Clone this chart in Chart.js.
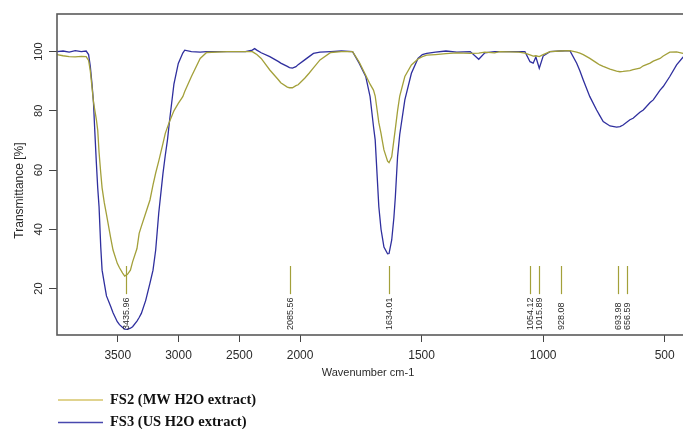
<!DOCTYPE html>
<html>
<head>
<meta charset="utf-8">
<script src="https://cdn.jsdelivr.net/npm/chart.js@4.4.1/dist/chart.umd.min.js"></script>
<style>
html, body { margin: 0; padding: 0; background: #fff; overflow: hidden; width: 683px; height: 429px; }
#wrap { position: relative; width: 700px; height: 429px; }
</style>
</head>
<body>
<div id="wrap"><canvas id="ftir" width="700" height="429"></canvas></div>
<script>
// wavenumber grid (cm-1)
const wavenumbers = [
  4000, 3950, 3900, 3850, 3800, 3760, 3740, 3726, 3712, 3700,
  3690, 3676, 3665, 3654, 3640, 3629, 3611, 3593, 3558, 3539,
  3504, 3486, 3460, 3443, 3420, 3396, 3378, 3342, 3324, 3306,
  3270, 3235, 3210, 3188, 3163, 3128, 3109, 3091, 3073, 3038,
  3002, 2965, 2949, 2894, 2822, 2769, 2600, 2450, 2393, 2374,
  2356, 2320, 2249, 2177, 2159, 2105, 2087, 2063, 2034, 2016,
  1981, 1963, 1945, 1918, 1874, 1830, 1784, 1757, 1730, 1712,
  1698, 1691, 1676, 1667, 1662, 1655, 1640, 1634, 1623, 1614,
  1608, 1599, 1590, 1569, 1542, 1515, 1497, 1479, 1443, 1400,
  1355, 1300, 1265, 1240, 1200, 1178, 1100, 1075, 1054, 1041,
  1030, 1016, 1000, 972, 930, 890, 862, 849, 835, 808,
  780, 767, 753, 725, 698, 684, 671, 643, 630, 602,
  588, 560, 547, 519, 506, 479, 451, 425, 400
];

// FS2 (MW H2O extract) transmittance %
const fs2Values = [
  99.0, 98.6, 98.3, 98.2, 98.4, 98.3, 97.0, 93.5, 88, 83,
  80.5, 77, 73.5, 66, 59, 54, 49, 45, 37, 33,
  28.5, 27, 25.2, 24.2, 24.8, 26.2, 29, 33.5, 38.6, 41,
  45.5, 49.9, 55, 59, 63, 69, 72.4, 74.5, 76.5, 80,
  82.5, 84.8, 86.5, 91.6, 97.7, 99.7, 100, 100, 100, 99.5,
  99, 97.7, 93.8, 90.4, 89.5, 88, 87.8, 87.8, 88.5, 88.8,
  91, 92.7, 94.5, 97.2, 99.7, 100, 100, 96.5, 92, 89,
  87, 85, 76, 72.4, 70, 66.8, 63, 62.5, 64.5, 70.2,
  74, 80, 85, 91.6, 95.5, 97.5, 98.3, 98.8, 99, 99.3,
  99.6, 99.4, 99.5, 99.8, 99.6, 100, 99.8, 99.5, 98.9, 98.5,
  98.6, 98.3, 99, 100, 100.2, 100.3, 99.8, 99.5, 99, 97.7,
  96.2, 95.5, 95, 94.1, 93.4, 93.2, 93.3, 93.6, 93.9, 94.4,
  95.2, 96.1, 96.8, 97.7, 98.5, 99.8, 99.9, 99.4, 99.2
];

// FS3 (US H2O extract) transmittance %
const fs3Values = [
  100, 100.2, 99.8, 100.3, 100, 100.2, 99, 95, 89, 83,
  74, 62.3, 54, 47.6, 34, 26.2, 21.8, 17.5, 13.9, 11.8,
  8.8, 7.8, 6.8, 6.3, 6.2, 6.6, 7.1, 9.0, 10.2, 11.6,
  16, 21.8, 26.2, 33, 45.4, 58.9, 65, 70.2, 77, 89,
  96, 99.5, 100.5, 100, 99.8, 100, 100, 100, 100.5, 101,
  100.5, 99.6, 98.3, 96.6, 96.1, 95, 94.6, 94.4, 94.9, 95.6,
  97.2, 98.3, 99.4, 99.8, 100, 100.2, 100, 96.1, 91.6, 84.8,
  74.7, 70.2, 47.6, 40, 37.5, 34, 31.7, 31.8, 36.4, 44,
  51, 64.5, 72, 83.7, 92.7, 97.7, 99, 99.4, 99.8, 100.2,
  99.8, 100, 97.4, 99.6, 100, 100, 100, 100, 96.6, 96.1,
  98.2, 94.4, 98.5, 100, 100.2, 100.3, 96.1, 93.5, 90.4, 84.8,
  80.3, 78.4, 76.4, 74.9, 74.5, 74.7, 75.2, 77, 77.5, 79.5,
  80.3, 82.8, 83.7, 87, 88.2, 91.6, 95.5, 98.1, 99.5
];

const peakPositions = [3435.96, 2085.56, 1634.01, 1054.12, 1015.89, 928.08, 693.98, 656.59];
const xTicks = [3500, 3000, 2500, 2000, 1500, 1000, 500];
const yTicks = [20, 40, 60, 80, 100];
const seriesNames = ['FS2 (MW H2O extract)', 'FS3 (US H2O extract)'];

// OPUS style axis: above 2000 cm-1 the scale is squeezed by half
const toAxis = w => w > 2000 ? 2000 + (w - 2000) / 2 : w;
const fromAxis = p => p > 2000 ? 2000 + (p - 2000) * 2 : p;
const pts = vals => wavenumbers.map((w, i) => ({ x: toAxis(w), y: vals[i] }));

const OLIVE = '#a3a03a';
const NAVY = '#2f2f9e';
const TXT = '#2a2a2a';
const SANS = '"Liberation Sans", Arial, sans-serif';

const extras = {
  id: 'extras',
  afterDatasetsDraw(chart) {
    const { ctx, chartArea: a, scales: { x, y } } = chart;
    ctx.save();

    // peak picks
    ctx.strokeStyle = OLIVE;
    ctx.lineWidth = 1.2;
    ctx.fillStyle = TXT;
    ctx.font = '9px ' + SANS;
    peakPositions.forEach(w => {
      const px = Math.round(x.getPixelForValue(toAxis(w))) + 0.5;
      ctx.beginPath();
      ctx.moveTo(px, y.getPixelForValue(27.6));
      ctx.lineTo(px, y.getPixelForValue(18.1));
      ctx.stroke();
      ctx.save();
      ctx.translate(px, y.getPixelForValue(6.0));
      ctx.rotate(-Math.PI / 2);
      ctx.textAlign = 'left';
      ctx.textBaseline = 'middle';
      ctx.fillText(w.toFixed(2), 0, 0);
      ctx.restore();
    });

    // box
    ctx.strokeStyle = '#5a5a5a';
    ctx.lineWidth = 1.6;
    ctx.strokeRect(a.left, a.top, a.right - a.left, a.bottom - a.top);

    // axis titles
    ctx.fillStyle = TXT;
    ctx.textAlign = 'center';
    ctx.textBaseline = 'middle';
    ctx.font = '11px ' + SANS;
    ctx.fillText('Wavenumber cm-1', (a.left + a.right) / 2 - 5, a.bottom + 38);
    ctx.font = '12px ' + SANS;
    ctx.save();
    ctx.translate(20, (a.top + a.bottom) / 2 + 16);
    ctx.rotate(-Math.PI / 2);
    ctx.fillText('Transmittance [%]', 0, 0);
    ctx.restore();

    // legend
    const legendCols = ['#d6c46a', '#4848ae'];
    ctx.font = 'bold 14.5px "Liberation Serif", "Times New Roman", serif';
    ctx.textAlign = 'left';
    ctx.fillStyle = '#111';
    seriesNames.forEach((name, i) => {
      const ly = 400 + i * 22.5;
      ctx.strokeStyle = legendCols[i];
      ctx.lineWidth = 1.4;
      ctx.beginPath();
      ctx.moveTo(58, ly);
      ctx.lineTo(103, ly);
      ctx.stroke();
      ctx.fillText(name, 110, ly);
    });
    ctx.restore();
  }
};

new Chart(document.getElementById('ftir'), {
  type: 'line',
  data: {
    datasets: [
      { label: seriesNames[0], data: pts(fs2Values), borderColor: OLIVE, borderWidth: 1.3, pointRadius: 0, tension: 0 },
      { label: seriesNames[1], data: pts(fs3Values), borderColor: NAVY, borderWidth: 1.3, pointRadius: 0, tension: 0 }
    ]
  },
  options: {
    responsive: false,
    animation: false,
    layout: { padding: { top: 14, right: 11, left: 0, bottom: 0 } },
    plugins: { legend: { display: false }, tooltip: { enabled: false } },
    scales: {
      x: {
        type: 'linear',
        reverse: true,
        min: toAxis(400),
        max: toAxis(4000),
        afterBuildTicks: s => { s.ticks = xTicks.map(w => ({ value: toAxis(w) })); },
        afterFit: s => { s.height = 94; },
        border: { display: false },
        grid: { drawOnChartArea: false, drawTicks: true, tickLength: 7, color: '#444' },
        ticks: {
          padding: 6, maxRotation: 0, color: TXT,
          font: { family: SANS, size: 12 },
          callback: v => String(Math.round(fromAxis(v)))
        }
      },
      y: {
        min: 4.3,
        max: 112.7,
        afterBuildTicks: s => { s.ticks = yTicks.map(v => ({ value: v })); },
        afterFit: s => { s.width = 57; },
        border: { display: false },
        grid: { drawOnChartArea: false, drawTicks: true, tickLength: 8, color: '#444' },
        ticks: {
          padding: 1, minRotation: 90, maxRotation: 90, crossAlign: 'center', color: TXT,
          font: { family: SANS, size: 11 }
        }
      }
    }
  },
  plugins: [extras]
});
</script>
</body>
</html>
